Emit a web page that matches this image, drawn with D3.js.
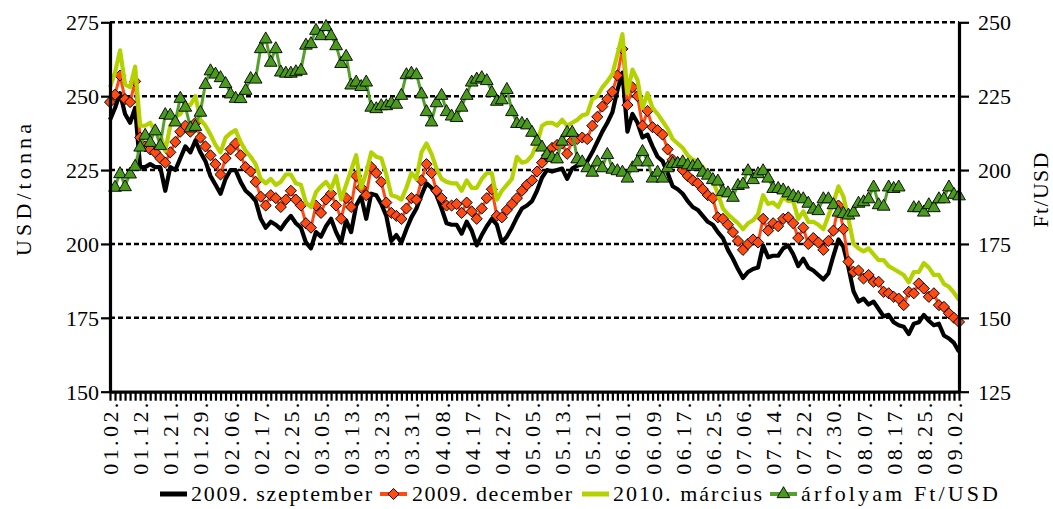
<!DOCTYPE html>
<html><head><meta charset="utf-8">
<script src="https://cdn.jsdelivr.net/npm/d3@7"></script>
<style>
html,body{margin:0;padding:0;background:#fff;}
svg{display:block;}
svg text{font-family:"Liberation Serif","Times New Roman",Times,"DejaVu Serif",serif !important;fill:#000;}
</style></head><body>
<svg id="chart" width="1053" height="509"></svg>
<script>
const dates = [
"01.02.","01.05.","01.06.","01.07.","01.08.","01.09.","01.12.","01.13.","01.14.","01.15.",
"01.16.","01.20.","01.21.","01.22.","01.23.","01.26.","01.27.","01.28.","01.29.","01.30.",
"02.02.","02.03.","02.04.","02.05.","02.06.","02.09.","02.10.","02.11.","02.12.","02.13.",
"02.17.","02.18.","02.19.","02.20.","02.23.","02.24.","02.25.","02.26.","02.27.","03.02.",
"03.03.","03.04.","03.05.","03.06.","03.09.","03.10.","03.11.","03.12.","03.13.","03.16.",
"03.17.","03.18.","03.19.","03.20.","03.23.","03.24.","03.25.","03.26.","03.27.","03.30.",
"03.31.","04.01.","04.02.","04.03.","04.06.","04.07.","04.08.","04.09.","04.13.","04.14.",
"04.15.","04.16.","04.17.","04.20.","04.21.","04.22.","04.23.","04.24.","04.27.","04.28.",
"04.29.","04.30.","05.01.","05.04.","05.05.","05.06.","05.07.","05.08.","05.11.","05.12.",
"05.13.","05.14.","05.15.","05.18.","05.19.","05.20.","05.21.","05.22.","05.26.","05.27.",
"05.28.","05.29.","06.01.","06.02.","06.03.","06.04.","06.05.","06.08.","06.09.","06.10.",
"06.11.","06.12.","06.15.","06.16.","06.17.","06.18.","06.19.","06.22.","06.23.","06.24.",
"06.25.","06.26.","06.29.","06.30.","07.01.","07.02.","07.06.","07.07.","07.08.","07.09.",
"07.10.","07.13.","07.14.","07.15.","07.16.","07.17.","07.20.","07.21.","07.22.","07.23.",
"07.24.","07.27.","07.28.","07.29.","07.30.","07.31.","08.03.","08.04.","08.05.","08.06.",
"08.07.","08.10.","08.11.","08.12.","08.13.","08.14.","08.17.","08.18.","08.19.","08.20.",
"08.21.","08.24.","08.25.","08.26.","08.27.","08.28.","08.31.","09.01.","09.02.","09.03."];

const xTickLabels = ["01.02.","01.12.","01.21.","01.29.","02.06.","02.17.","02.25.","03.05.",
"03.13.","03.23.","03.31.","04.08.","04.17.","04.27.","05.05.","05.13.","05.21.","06.01.",
"06.09.","06.17.","06.25.","07.06.","07.14.","07.22.","07.30.","08.07.","08.17.","08.25.","09.02."];

const leftTicks = [150,175,200,225,250,275];
const rightTicks = [125,150,175,200,225,250];

const sep2009 = [
242,246,251,244,241,246,226,226,227,226,
226,218,226,225,229,233,231,235,231,228,
223,220,217,222,225,225,221,218,216.5,214.5,
208.5,205.5,207.5,206.5,205,207.5,209.5,207,205.5,200.5,
198.5,204,202.5,206,208.5,204,200.5,208,204,213,
216,208.5,217,216.5,213.5,209.5,201,203,200.5,205,
209,212,216.5,220.5,219,216.5,212,207,206.5,206.5,
203.5,207.5,204.5,199.5,203,206,208.5,206.5,200.5,202.5,
205.5,209,212,213,214.5,218,222.5,225,224.5,225,
225.5,222,225.5,226.5,227,228,231,234.5,238,241,
244.5,252,258,238,244,241,236,237,233,229.5,
228,224,219.5,218.5,217,214.5,212.5,211.5,209.5,207.5,
206.5,204,202,198,195,191.5,188.5,190.5,191.5,192,
199.5,195.5,196,196,198.5,199.5,196.5,192.5,195,192,
191,189.5,188,190,196,201.5,199,192,184,180.5,
181.5,179.5,180.5,178,175.5,176,173.5,172.5,172,169.5,
173,173.5,176,174,172.5,173,169,168,166.5,163.5];

const dec2009 = [
248,250.5,257,249,248,255,236,233,232,231,
229,227.5,231,234.5,238,240,238,241,236,233,
230,227,223.5,229,232,234,230,226,224.5,221,
216,213,216.5,215.5,212.5,215,218,215,213,207,
205.5,213,210.5,215,217,213,208.5,215.5,212.5,223,
219,216.5,226,224,221,214,210.5,209.5,208.5,212,
215.5,215,221.5,227,224,218,215.5,213,213,213.5,
210.5,214,211,208.5,212,215.5,218.5,209.5,209,211.5,
213.5,215.5,218,220,221.5,224.5,227.5,230,232.5,233.5,
234,230.5,235,235.5,236,235.5,240,243,246.5,249,
251.5,257,266,247,253,250,240,245,239.5,238.5,
237,232,228.5,227.5,225,223,221.5,220.5,218.5,216.5,
215.5,209,208.5,206.5,204,201,198,200,201.5,200.5,
208.5,204.5,207,206,208.5,209,207,202,205.5,200,
202,200.5,198,201,204.5,213,205,194,190.6,191,
188.3,189.5,187.2,187.2,183.8,183.3,182.1,181.5,179.3,183.8,
183.3,186.6,184.9,182.1,183.3,179.3,178.7,176.5,175,173.6];

const mar2010 = [
253,258,265.5,254,253,260,240,240,241,238,
237,231.5,240,243,244,247,247,250,242,240,
237,233.5,231,236,237.5,238.5,234.5,231.5,229.5,227,
222,220.5,222,220,221,223.5,223.5,220.5,220,214,
212.5,217.5,219.5,221,218.5,223,215,220,225,230,
219,224,231,229.5,229,223.5,216.5,216,215,219,
224,222,231,234,230.5,225.5,222,221,220.5,220.5,
218,221.5,219,219,222,224,224,215,218,220,
222,229.5,227.5,228,230,234,240,241,241,240,
242,240,241,242,243.5,244,249,250,253,255,
257.5,264,271,251,259,255.5,246,251,246,244,
241.5,239,235.5,234,232.5,230,228.5,228,226,223.5,
221.5,217,212,210,208.5,207,205,207,208,210,
216.5,213.5,214,212.5,216,214.5,214.5,208.5,211,207.5,
207.5,206.5,205,209.5,214,219.5,216,208.5,200,198.5,
197.5,198.5,196.5,194.5,194.5,192.5,191.5,190.5,189.5,187,
190.5,190.5,193.5,192,189.5,189.5,186.5,185.5,183.5,181];

const fxRate = [
null,194.4,199,194.6,198.9,201.5,208,212,209.6,213.5,
208.5,219,218.8,216.5,224.5,221.5,214.5,215,219.8,229.2,
233.8,232.7,231.5,229.5,226,224.5,224.4,227.2,231.2,231,
241.3,244.6,236.7,241.3,233.4,233,233,233.5,234,242.5,
243,247.5,245.7,248.8,245.7,242.3,236.3,238.7,229,230,
228.5,230,221.5,221,222,222,223,222.5,225.5,232.5,
233,232.5,226,220,216.5,223,225.5,220,218.5,218,
221.5,225.5,230,231,231.5,230.5,226.5,223.5,224,227.5,
220,216,216,215.5,213,210,208,205.5,204.5,204,
210,213,213,204,203,201,199.5,203,201,205.5,
200.5,200,199.5,197.5,201,203,206.5,203,197.5,199.5,
197.5,201,202.5,202.5,203,202,201.5,202,199.5,198.5,
197,196.5,193,192.5,191,195,195.5,200,197,199,
200,197.5,194,194,193.5,192.5,191.5,191,190.5,189,
187,186.5,190.5,190.5,188.5,186,185.5,185,186,189,
189.5,190.5,194.5,188.5,188,194.5,194,194.5,null,null,
187.5,187.5,186,188.5,187.5,190.5,190.5,194.5,192,191.5];

const seriesNames = ["2009. szeptember","2009. december","2010. március","árfolyam Ft/USD"];
const leftTitle = "USD/tonna";
const rightTitle = "Ft/USD";

const C = {black:"#000000", red:"#FF4A12", yellow:"#B4D200", greenLine:"#55A02C", greenFill:"#4A9A1E"};
const FONT = '"Liberation Serif","Times New Roman",Times,"DejaVu Serif",serif';

const svg = d3.select("#chart");
const L = 110, R = 959, T = 22.3, B = 391.7;

const x = d3.scalePoint().domain(dates).range([L, R]);
const yL = d3.scaleLinear().domain([150, 275]).range([B, T]);
const yR = d3.scaleLinear().domain([125, 250]).range([B, T]);

// gridlines
svg.append("g").selectAll("line").data(leftTicks.filter(v => v !== 150)).join("line")
  .attr("x1", L).attr("x2", R)
  .attr("y1", d => yL(d)).attr("y2", d => yL(d))
  .attr("stroke", "#000").attr("stroke-width", 2.6)
  .attr("stroke-dasharray", "5,3");

// lines & markers (series order, markers with their series)
const lineL = arr => d3.line().defined(d => d != null)
  .x((d, i) => x(dates[i])).y(d => yL(d))(arr);
const lineR = arr => d3.line().defined(d => d != null)
  .x((d, i) => x(dates[i])).y(d => yR(d))(arr);

const diamond = d3.symbol().type(d3.symbolSquare).size(62)();
const tri = d3.symbol().type(d3.symbolTriangle).size(70)();

const gS = svg.append("g").attr("stroke-linejoin", "round");
gS.append("path").attr("d", lineL(sep2009)).attr("fill", "none").attr("stroke", C.black).attr("stroke-width", 4.2);

gS.append("path").attr("d", lineL(dec2009)).attr("fill", "none").attr("stroke", C.red).attr("stroke-width", 3);
gS.append("g").selectAll("path").data(dec2009.map((v, i) => [dates[i], v])).join("path")
  .attr("d", diamond)
  .attr("transform", d => `translate(${x(d[0])},${yL(d[1])}) rotate(45)`)
  .attr("fill", C.red).attr("stroke", "#000").attr("stroke-width", 0.9);

gS.append("path").attr("d", lineL(mar2010)).attr("fill", "none").attr("stroke", C.yellow).attr("stroke-width", 4.2);

gS.append("path").attr("d", lineR(fxRate)).attr("fill", "none").attr("stroke", C.greenLine).attr("stroke-width", 3);
gS.append("g").selectAll("path").data(fxRate.map((v, i) => [dates[i], v]).filter(d => d[1] != null)).join("path")
  .attr("d", tri)
  .attr("transform", d => `translate(${x(d[0])},${yR(d[1]) + 1})`)
  .attr("fill", C.greenFill).attr("stroke", "#000").attr("stroke-width", 0.9);

// axes
const fontSize = 22;
const gl = svg.append("g").attr("transform", `translate(${L},0)`)
  .call(d3.axisLeft(yL).tickValues(leftTicks).tickSize(9).tickSizeOuter(0).tickPadding(2));
const gr = svg.append("g").attr("transform", `translate(${R},0)`)
  .call(d3.axisRight(yR).tickValues(rightTicks).tickSize(10).tickSizeOuter(0).tickPadding(9));
const gb = svg.append("g").attr("transform", `translate(0,${B})`)
  .call(d3.axisBottom(x).tickValues(dates).tickSize(9).tickSizeOuter(0).tickFormat(""));
const gbl = svg.append("g").attr("transform", `translate(0,${B})`)
  .call(d3.axisBottom(x).tickValues(xTickLabels).tickSize(0).tickSizeOuter(0));
gbl.select(".domain").remove();
gbl.selectAll("text")
  .attr("transform", "rotate(-90)")
  .attr("text-anchor", "end")
  .attr("x", -11).attr("y", 0).attr("dy", "0.34em")
  .attr("textLength", 72).attr("lengthAdjust", "spacing");

[gl, gr, gb].forEach(g => {
  g.select(".domain").attr("stroke", "#000").attr("stroke-width", 3.2);
  g.selectAll(".tick line").attr("stroke", "#000").attr("stroke-width", 2.2);
});
[gl, gr, gbl].forEach(g => {
  g.attr("font-family", FONT);
  g.selectAll("text").attr("font-size", fontSize).style("font-family", FONT).attr("fill", "#000");
});
gl.selectAll(".tick text").attr("dy", "0.34em");
gr.selectAll(".tick text").attr("dy", "0.34em");

// axis titles
svg.append("text").attr("transform", "translate(31,190) rotate(-90)")
  .attr("text-anchor", "middle").attr("font-size", fontSize).style("font-family", FONT)
  .attr("textLength", 132).attr("lengthAdjust", "spacing").text(leftTitle);
svg.append("text").attr("transform", "translate(1048,190) rotate(-90)")
  .attr("text-anchor", "middle").attr("font-size", fontSize).style("font-family", FONT)
  .attr("textLength", 75).attr("lengthAdjust", "spacing").text(rightTitle);

// legend
const ly = 494;
const legendItems = [
  {name: seriesNames[0], x0: 160, tx: 191, tw: 181, color: C.black, w: 5, marker: null},
  {name: seriesNames[1], x0: 380, tx: 412, tw: 160, color: C.red, w: 4, marker: "d"},
  {name: seriesNames[2], x0: 582, tx: 613, tw: 149, color: C.yellow, w: 5, marker: null},
  {name: seriesNames[3], x0: 770, tx: 801, tw: 197, color: C.greenLine, w: 4, marker: "t"}
];
const lg = svg.append("g");
legendItems.forEach(it => {
  lg.append("line").attr("x1", it.x0).attr("x2", it.x0 + 27).attr("y1", ly).attr("y2", ly)
    .attr("stroke", it.color).attr("stroke-width", it.w);
  if (it.marker === "d") {
    lg.append("path").attr("d", diamond).attr("transform", `translate(${it.x0 + 13.5},${ly}) rotate(45)`)
      .attr("fill", C.red).attr("stroke", "#000").attr("stroke-width", 0.9);
  } else if (it.marker === "t") {
    lg.append("path").attr("d", tri).attr("transform", `translate(${it.x0 + 13.5},${ly})`)
      .attr("fill", C.greenFill).attr("stroke", "#000").attr("stroke-width", 0.9);
  }
  lg.append("text").attr("x", it.tx).attr("y", ly + 7).attr("font-size", fontSize).style("font-family", FONT)
    .attr("textLength", it.tw).attr("lengthAdjust", "spacing").text(it.name);
});
</script>
</body></html>
